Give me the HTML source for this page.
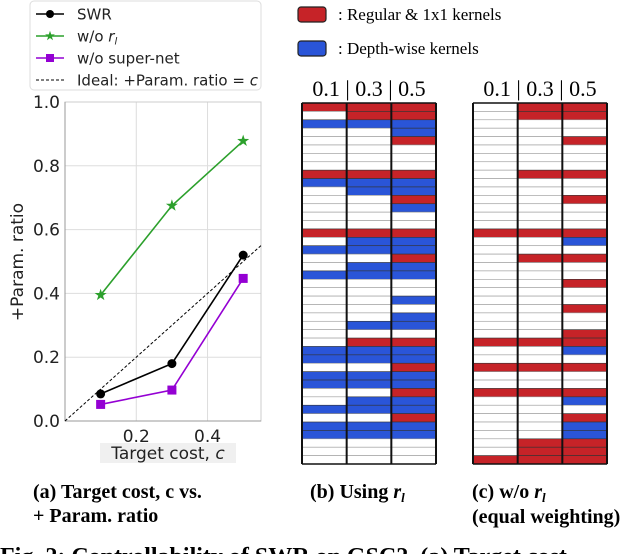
<!DOCTYPE html>
<html><head><meta charset="utf-8"><style>
html,body{margin:0;padding:0;background:#fff;width:640px;height:554px;overflow:hidden}
svg{display:block}
.sans{font-family:"DejaVu Sans","Liberation Sans",sans-serif}
.serif{font-family:"Liberation Serif",serif}
</style></head><body>
<svg id="fig" width="640" height="554" viewBox="0 0 640 554" xmlns="http://www.w3.org/2000/svg">
<g id="chartA"></g>
<g id="grids"></g>
<g>
<rect x="298" y="7" width="28" height="15" rx="3" fill="#c62328" stroke="#222" stroke-width="1.2"/>
<text x="338" y="20" class="serif" font-size="17">: Regular &amp; 1x1 kernels</text>
<rect x="298" y="41" width="28" height="15" rx="3" fill="#2a55d8" stroke="#222" stroke-width="1.2"/>
<text x="338" y="54" class="serif" font-size="17">: Depth-wise kernels</text>
</g>
<g class="serif" font-weight="bold" font-size="20">
<text x="33" y="498">(a) Target cost, c vs.</text>
<text x="33" y="522">+ Param. ratio</text>
<text x="310" y="498">(b) Using <tspan font-style="italic">r</tspan><tspan font-style="italic" font-size="13" dy="4">l</tspan></text>
<text x="472" y="498">(c) w/o <tspan font-style="italic">r</tspan><tspan font-style="italic" font-size="13" dy="4">l</tspan></text>
<text x="472" y="523">(equal weighting)</text>
<text x="0" y="564" font-size="24">Fig. 2: Controllability of SWR on GSC2. (a) Target cost</text>
</g>
</svg>
<script>
const NS='http://www.w3.org/2000/svg';
// Chart (a) data
const xValues=[0.1,0.3,0.5];
const swrValues=[0.085,0.18,0.52];
const noRlValues=[0.395,0.675,0.878];
const noSupernetValues=[0.052,0.097,0.447];
const xTicks=[0.2,0.4];
const yTicks=[0.0,0.2,0.4,0.6,0.8,1.0];
// Grid data: rows of [col0.1, col0.3, col0.5]; w=white r=red b=blue
const colLabels=['0.1','0.3','0.5'];
const gridB=['rrr','wrr','bbb','wwb','wwr','www','www','www','rrr','bbb','wbb','wwr','wwb','www','www','rrr','wbb','bbb','wwr','wbb','bbb','www','www','wwb','www','wwb','wbb','www','wrr','bbb','bbb','wwr','bbb','bbb','wwr','wbb','bbb','wwr','bbb','bbb','www','www','www'];
const gridC=['wrr','wrr','www','www','wwr','www','www','www','wrr','www','www','wwr','www','www','www','rrr','wwb','www','wrr','www','www','wwr','www','www','wwr','www','www','wwr','rrr','wwb','www','rrr','www','www','rrr','wwb','www','wwr','wwb','wwb','wrr','wrr','rrr'];

function mk(tag,attrs,parent){const e=document.createElementNS(NS,tag);for(const k in attrs)e.setAttribute(k,attrs[k]);parent.appendChild(e);return e;}

// ---- Chart A ----
const A=document.getElementById('chartA');
const L=65,R=261,T=102,B=421,xMax=0.55;
const sx=v=>L+v/xMax*(R-L);
const sy=v=>B-v*(B-T);
const lg=mk('g',{},A);


mk('rect',{x:30,y:1,width:231,height:89,rx:4,fill:'#fff',stroke:'#ddd'},lg);
const leg=[['SWR','#000','circle'],['w/o ','#2ca02c','star'],['w/o super-net','#9400d3','square'],['Ideal: +Param. ratio  = ','#000','dash']];
function marker(g,type,x,y,c,s){
  if(type==='circle')mk('circle',{cx:x,cy:y,r:s,fill:c},g);
  else if(type==='square')mk('rect',{x:x-s,y:y-s,width:2*s,height:2*s,fill:c},g);
  else if(type==='star'){let p=[];for(let i=0;i<10;i++){const r=i%2?s*0.45:s*1.15;const a=-Math.PI/2+i*Math.PI/5;p.push((x+r*Math.cos(a)).toFixed(1)+','+(y+r*Math.sin(a)).toFixed(1));}mk('polygon',{points:p.join(' '),fill:c},g);}
}
leg.forEach((d,i)=>{
  const y=14+i*22;
  const e=mk('g',{},lg);
  
  
  if(d[2]==='dash')mk('line',{x1:36,y1:y,x2:64,y2:y,stroke:'#000','stroke-width':1,'stroke-dasharray':'3,2'},e);
  else{mk('line',{x1:36,y1:y,x2:64,y2:y,stroke:d[1],'stroke-width':1.6},e);marker(e,d[2],50,y,d[1],d[2]==='star'?4.5:4);}
  const t=mk('text',{x:77,y:y+5.5,'font-size':15,class:'sans',fill:'#222'},e);
  t.textContent=d[0];
  if(i===1){const ts=mk('tspan',{'font-style':'italic'},t);ts.textContent='r';const s2=mk('tspan',{'font-style':'italic','font-size':10,dy:3},t);s2.textContent='l';}
  if(i===3){const ts=mk('tspan',{'font-style':'italic'},t);ts.textContent='c';}
});
const gg=mk('g',{},A);


xTicks.forEach(v=>mk('line',{x1:sx(v),y1:T,x2:sx(v),y2:B,stroke:'#ddd','stroke-width':1},gg));
yTicks.forEach(v=>mk('line',{x1:L,y1:sy(v),x2:R,y2:sy(v),stroke:'#ddd','stroke-width':1},gg));
mk('rect',{x:L,y:T,width:R-L,height:B-T,fill:'none',stroke:'#ccc'},gg);
mk('line',{x1:L,y1:T,x2:L,y2:B,stroke:'#999'},gg);
mk('line',{x1:L,y1:B,x2:R,y2:B,stroke:'#999'},gg);
yTicks.forEach(v=>{const t=mk('text',{x:L-5,y:sy(v)+6,'text-anchor':'end','font-size':17,class:'sans',fill:'#222'},A);


t.textContent=v.toFixed(1);});
xTicks.forEach(v=>{const t=mk('text',{x:sx(v),y:B+21,'text-anchor':'middle','font-size':17,class:'sans',fill:'#222'},A);


t.textContent=v.toFixed(1);});
mk('rect',{x:100,y:443,width:136,height:20,fill:'#f0f0f0'},A);
const xt=mk('text',{x:168,y:459,'text-anchor':'middle','font-size':17,class:'sans',fill:'#222'},A);


xt.innerHTML='Target cost, <tspan font-style="italic">c</tspan>';
const yt=mk('text',{x:0,y:0,'text-anchor':'middle','font-size':17,class:'sans',fill:'#222',transform:'translate(23,262) rotate(-90)'},A);


yt.textContent='+Param. ratio';
const il=mk('line',{x1:sx(0),y1:sy(0),x2:sx(xMax),y2:sy(xMax),stroke:'#000','stroke-width':1,'stroke-dasharray':'3,2'},A);


function series(vals,c,type,name,s){
  const g=mk('g',{},A);
  
  
  mk('polyline',{points:xValues.map((x,i)=>sx(x)+','+sy(vals[i])).join(' '),fill:'none',stroke:c,'stroke-width':1.6},g);
  xValues.forEach((x,i)=>marker(g,type,sx(x),sy(vals[i]),c,s));
}
series(noRlValues,'#2ca02c','star','series-wo-rl',5.5);
series(noSupernetValues,'#9400d3','square','series-wo-supernet',4.5);
series(swrValues,'#000','circle','series-swr',4.5);

// ---- Grids ----
const G=document.getElementById('grids');
const colors={r:'#c62328',b:'#2a55d8',w:'#fff'};
function grid(data,x0,name){
  const g=mk('g',{},G);
  
  
  const top=103,bot=464,w=134,cw=w/3,rh=(bot-top)/data.length;
  const h=mk('text',{x:x0+w/2,y:96,'text-anchor':'middle','font-size':22,class:'serif'},g);
  
  
  h.textContent=colLabels.join(' | ');
  data.forEach((row,i)=>{for(let j=0;j<3;j++){
    const c=row[j];
    const r=mk('rect',{x:x0+j*cw,y:top+i*rh,width:cw,height:rh,fill:colors[c],stroke:c==='w'?'#999':'#333','stroke-width':0.6},g);
    
    
  }});
  for(let j=0;j<=3;j++)mk('line',{x1:x0+j*cw,y1:top,x2:x0+j*cw,y2:bot,stroke:'#111','stroke-width':2},g);
  mk('line',{x1:x0,y1:top,x2:x0+w,y2:top,stroke:'#111','stroke-width':1.5},g);
  mk('line',{x1:x0,y1:bot,x2:x0+w,y2:bot,stroke:'#111','stroke-width':1.5},g);
}
grid(gridB,302,'grid-using-rl');
grid(gridC,473,'grid-without-rl');
</script>
</body></html>
